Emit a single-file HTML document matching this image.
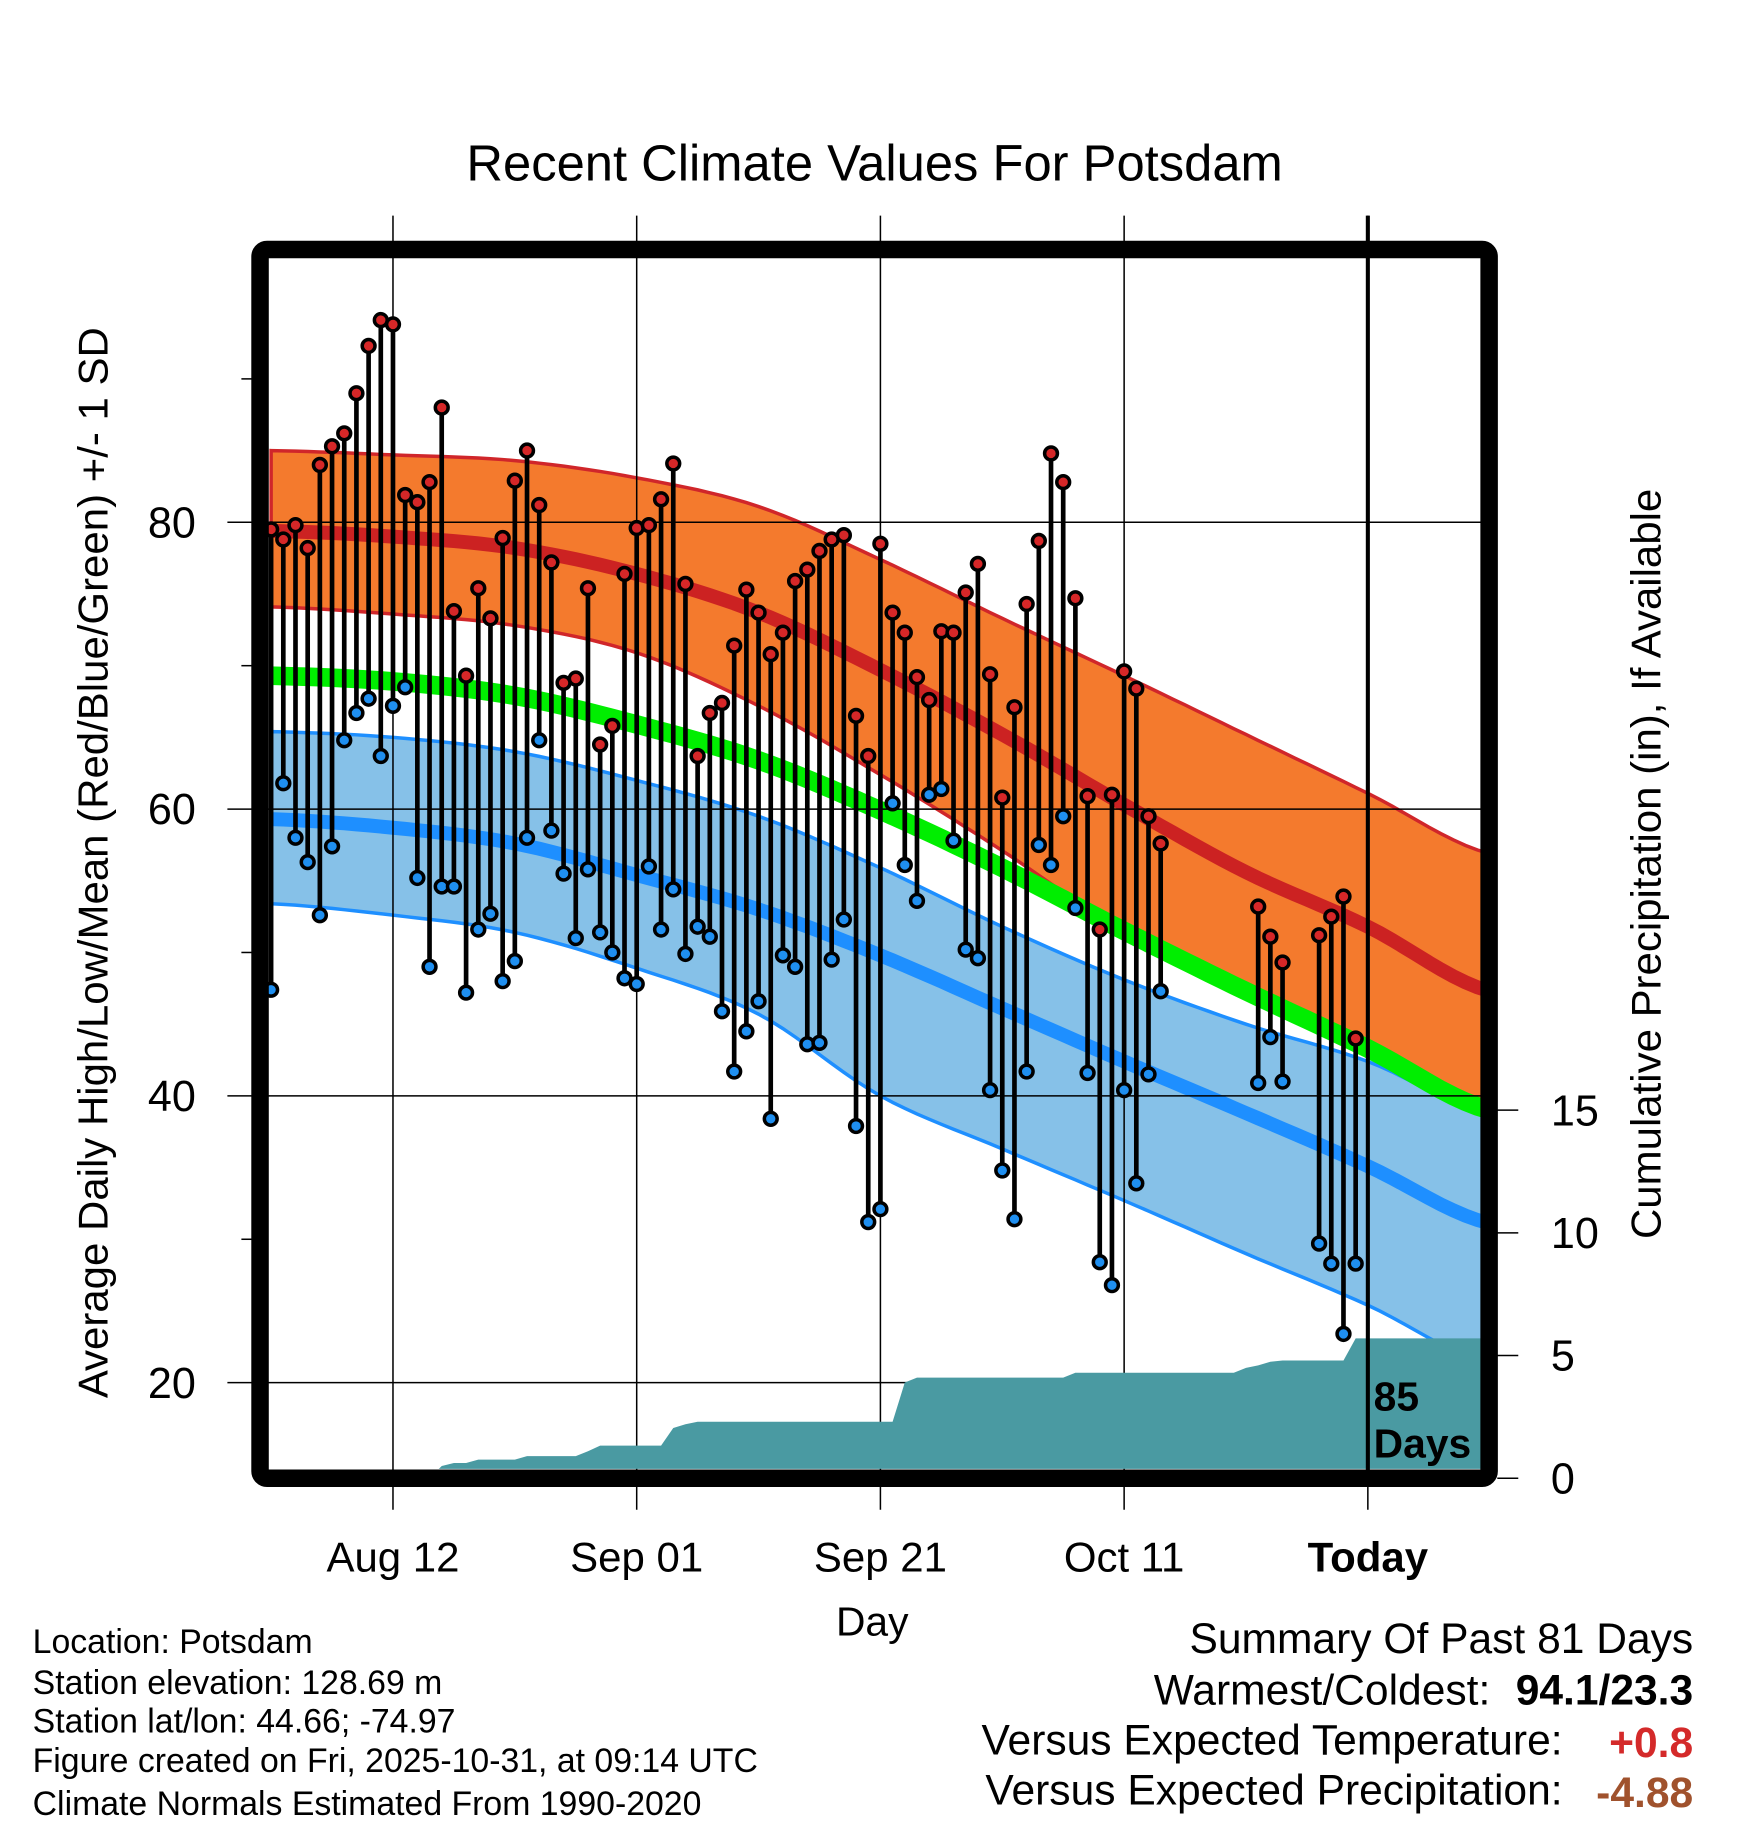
<!DOCTYPE html>
<html><head><meta charset="utf-8"><style>
html,body{margin:0;padding:0;background:#fff;}
svg{display:block;font-family:"Liberation Sans",Arial,sans-serif;}
</style></head><body>
<svg id="chart" width="1748" height="1828" viewBox="0 0 1499 1568" preserveAspectRatio="none" xmlns="http://www.w3.org/2000/svg">
<defs><clipPath id="clipInner"><rect x="230" y="220" width="1040" height="1040"/></clipPath></defs>
<rect width="1499" height="1568" fill="#fff"/>
<text x="750" y="155" font-size="43.5" text-anchor="middle">Recent Climate Values For Potsdam</text>
<g id="bands" clip-path="url(#clipInner)"></g>
<g id="grid"></g>
<g id="precip" clip-path="url(#clipInner)"></g>
<g id="marks" clip-path="url(#clipInner)"></g>
<g id="axes"></g>
<rect x="223" y="214" width="1054" height="1054" rx="6" fill="none" stroke="#000" stroke-width="15"/>
<text transform="translate(92,740) rotate(-90)" font-size="36" text-anchor="middle">Average Daily High/Low/Mean (Red/Blue/Green) +/- 1 SD</text>
<text transform="translate(1424,741) rotate(-90)" font-size="36" text-anchor="middle">Cumulative Precipitation (in), If Available</text>
<text x="748" y="1403" font-size="35" text-anchor="middle">Day</text>
<text x="1178" y="1210" font-size="35" font-weight="bold">85</text>
<text x="1178" y="1250" font-size="35" font-weight="bold">Days</text>
<g font-size="29">
<text x="28" y="1418">Location: Potsdam</text>
<text x="28" y="1453">Station elevation: 128.69 m</text>
<text x="28" y="1486">Station lat/lon: 44.66; -74.97</text>
<text x="28" y="1520">Figure created on Fri, 2025-10-31, at 09:14 UTC</text>
<text x="28" y="1557">Climate Normals Estimated From 1990-2020</text>
</g>
<g font-size="36.5" text-anchor="end">
<text x="1452" y="1418">Summary Of Past 81 Days</text>
<text x="1278" y="1462">Warmest/Coldest:</text>
<text x="1452" y="1462" font-weight="bold">94.1/23.3</text>
<text x="1340" y="1505">Versus Expected Temperature:</text>
<text x="1452" y="1507" font-weight="bold" fill="#d42a2a">+0.8</text>
<text x="1340" y="1548">Versus Expected Precipitation:</text>
<text x="1452" y="1550" font-weight="bold" fill="#a0522d">-4.88</text>
</g>
</svg>
<script>
// ---- data ----
const highs = [79.5,78.8,79.8,78.2,84,85.3,86.2,89,92.3,94.1,93.8,81.9,81.4,82.8,88,73.8,69.3,75.4,73.3,78.9,82.9,85,81.2,77.2,68.8,69.1,75.4,64.5,65.8,76.4,79.6,79.8,81.6,84.1,75.7,63.7,66.7,67.4,71.4,75.3,73.7,70.8,72.3,75.9,76.7,78,78.8,79.1,66.5,63.7,78.5,73.7,72.3,69.2,67.6,72.4,72.3,75.1,77.1,69.4,60.8,67.1,74.3,78.7,84.8,82.8,74.7,60.9,51.6,61,69.6,68.4,59.5,57.6,null,null,null,null,null,null,null,53.2,51.1,49.3,null,null,51.2,52.5,53.9,44];
const lows = [47.4,61.8,58,56.3,52.6,57.4,64.8,66.7,67.7,63.7,67.2,68.5,55.2,49,54.6,54.6,47.2,51.6,52.7,48,49.4,58,64.8,58.5,55.5,51,55.8,51.4,50,48.2,47.8,56,51.6,54.4,49.9,51.8,51.1,45.9,41.7,44.5,46.6,38.4,49.8,49,43.6,43.7,49.5,52.3,37.9,31.2,32.1,60.4,56.1,53.6,61,61.4,57.8,50.2,49.6,40.4,34.8,31.4,41.7,57.5,56.1,59.5,53.1,41.6,28.4,26.8,40.4,33.9,41.5,47.3,null,null,null,null,null,null,null,40.9,44.1,41,null,null,29.7,28.3,23.4,28.3];
const precipCum = [0,0,0,0,0,0,0,0,0,0,0,0,0,0,0.5,0.62,0.62,0.76,0.76,0.76,0.76,0.9,0.9,0.9,0.9,0.9,1.1,1.33,1.33,1.33,1.33,1.33,1.33,2.05,2.2,2.3,2.3,2.3,2.3,2.3,2.3,2.3,2.3,2.3,2.3,2.3,2.3,2.3,2.3,2.3,2.3,2.3,3.9,4.1,4.1,4.1,4.1,4.1,4.1,4.1,4.1,4.1,4.1,4.1,4.1,4.1,4.3,4.3,4.3,4.3,4.3,4.3,4.3,4.3,4.3,4.3,4.3,4.3,4.3,4.3,4.5,4.6,4.75,4.8,4.8,4.8,4.8,4.8,4.8,5.7,5.7];
const normDays = [0,10,20,30,40,50,60,70,80,90,100];
const highMean = [79.4,79.0,78.2,76.4,73.7,69.7,65.2,60.3,55.6,51.8,47.3];
const highUpper = [85.0,84.7,84.3,83.1,81.1,77.4,73.3,69.3,65.2,61.1,56.9];
const highLower = [74.1,73.6,72.8,70.9,67.2,62.4,57.1,51.4,46.9,43.7,39.3];
const meanNorm = [69.3,68.9,67.9,65.9,63.4,59.9,55.9,51.5,47.3,43.3,39.0];
const lowMean = [59.3,58.7,57.6,55.4,53.0,49.8,46.1,42.4,38.8,35.1,31.1];
const lowUpper = [65.4,65.0,64.0,62.0,59.5,55.9,51.8,48.1,45.0,42.4,38.7];
const lowLower = [53.4,52.6,51.4,48.9,45.7,40.0,36.3,32.7,29.0,25.4,21.3];
const yTicks = [20,40,60,80];
const yMinor = [30,50,70,90];
const pTicks = [0,5,10,15];
const xTickDays = [10,30,50,70,90];
const xTickLabels = ["Aug 12","Sep 01","Sep 21","Oct 11","Today"];
const todayDay = 90;

// ---- scales ----
const NS="http://www.w3.org/2000/svg";
function X(d){return 337+(d-10)*10.45;}
function Y(t){return 448+(80-t)*12.3;}
function P(p){return 1268-p*21.05;}
function mk(tag,attrs,parent){const e=document.createElementNS(NS,tag);for(const k in attrs)e.setAttribute(k,attrs[k]);parent.appendChild(e);return e;}
// Catmull-Rom smoothing through normal samples
function smooth(arr){
  const out=[];
  const n=arr.length;
  for(let i=0;i<n-1;i++){
    const p0=arr[Math.max(0,i-1)],p1=arr[i],p2=arr[i+1],p3=arr[Math.min(n-1,i+2)];
    for(let s=0;s<10;s++){
      const t=s/10,t2=t*t,t3=t2*t;
      const v=0.5*((2*p1)+(-p0+p2)*t+(2*p0-5*p1+4*p2-p3)*t2+(-p0+3*p1-3*p2+p3)*t3);
      const d=normDays[i]+(normDays[i+1]-normDays[i])*t;
      out.push(X(d).toFixed(1)+","+Y(v).toFixed(1));
    }
  }
  out.push(X(normDays[n-1])+","+Y(arr[n-1]));
  return out;
}

const bands=document.getElementById('bands');
let e;
e=mk('polygon',{points:smooth(highUpper).concat(smooth(highLower).reverse()).join(' '),fill:'#f47a2d',stroke:'#d0262a','stroke-width':3},bands);


e=mk('polygon',{points:smooth(lowUpper).concat(smooth(lowLower).reverse()).join(' '),fill:'#86c1e8',stroke:'#1e8fff','stroke-width':3},bands);


e=mk('polyline',{points:smooth(meanNorm).join(' '),fill:'none',stroke:'#00ee00','stroke-width':16},bands);


e=mk('polyline',{points:smooth(highMean).join(' '),fill:'none',stroke:'#cc2222','stroke-width':12},bands);


e=mk('polyline',{points:smooth(lowMean).join(' '),fill:'none',stroke:'#1e8fff','stroke-width':12},bands);



// grid
const grid=document.getElementById('grid');
yTicks.forEach(t=>{
  e=mk('line',{x1:195,x2:1270,y1:Y(t),y2:Y(t),stroke:'#000','stroke-width':1.3},grid);
  
  
});
xTickDays.forEach(d=>{
  e=mk('line',{x1:X(d),x2:X(d),y1:185,y2:1295,stroke:'#000','stroke-width':1.3},grid);
  
  
});

// precip
const pg=document.getElementById('precip');
let pp=[X(0)-5+","+P(0)];
precipCum.forEach((v,i)=>pp.push(X(i)+","+P(v)));
pp.push("1275,"+P(precipCum[precipCum.length-1]));
pp.push("1275,"+P(0));
e=mk('polygon',{points:pp.join(' '),fill:'#4a9aa2'},pg);



// marks
const mg=document.getElementById('marks');
highs.forEach((h,i)=>{
  const l=lows[i];
  if(h==null||l==null)return;
  e=mk('line',{x1:X(i),x2:X(i),y1:Y(h),y2:Y(l),stroke:'#000','stroke-width':4},mg);
  
  
});
highs.forEach((h,i)=>{
  const l=lows[i];
  if(h==null||l==null)return;
  e=mk('circle',{cx:X(i),cy:Y(h),r:5.5,fill:'#d62728',stroke:'#000','stroke-width':3},mg);
  
  
  e=mk('circle',{cx:X(i),cy:Y(l),r:5.5,fill:'#1f8ff0',stroke:'#000','stroke-width':3},mg);
  
  
});

// axes
const ax=document.getElementById('axes');
e=mk('line',{x1:X(todayDay),x2:X(todayDay),y1:185,y2:1272,stroke:'#000','stroke-width':3.5},ax);


yTicks.forEach(t=>{
  e=mk('text',{x:168,y:Y(t)+13,'font-size':37,'text-anchor':'end'},ax);
  e.textContent=t;
  
  
});
yMinor.forEach(t=>{
  e=mk('line',{x1:207,x2:216,y1:Y(t),y2:Y(t),stroke:'#000','stroke-width':1.3},ax);
  
  
});
pTicks.forEach(p=>{
  e=mk('line',{x1:1284,x2:1302,y1:P(p),y2:P(p),stroke:'#000','stroke-width':1.3},ax);
  
  
  e=mk('text',{x:1330,y:P(p)+13,'font-size':37},ax);
  e.textContent=p;
  
  
});
xTickDays.forEach((d,i)=>{
  e=mk('text',{x:X(d),y:1348,'font-size':36,'text-anchor':'middle'},ax);
  if(xTickLabels[i]==="Today")e.setAttribute('font-weight','bold');
  e.textContent=xTickLabels[i];
  
  
});
</script>
</body></html>
